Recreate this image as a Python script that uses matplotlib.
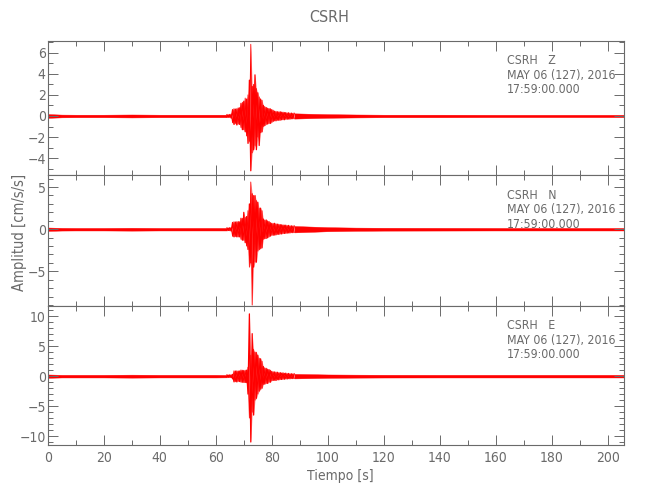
import numpy as np
import matplotlib
matplotlib.use('Agg')
import matplotlib.pyplot as plt
from matplotlib import font_manager as fm
from matplotlib.ticker import MultipleLocator

# pick a narrow font if one is installed, else Roboto
cands = [f for f in fm.fontManager.ttflist
         if (f.stretch in ('condensed', 'semi-condensed')
             or 'Condensed' in f.name or 'Narrow' in f.name)
         and f.style == 'normal' and f.weight in (300, 400, 'normal', 'light')]
cands.sort(key=lambda f: ('DejaVu' not in f.name, f.weight != 400))
if cands:
    plt.rcParams['font.family'] = [cands[0].name, 'DejaVu Sans']
    plt.rcParams['font.stretch'] = cands[0].stretch
else:
    plt.rcParams['font.family'] = ['Roboto', 'DejaVu Sans']
    plt.rcParams['font.weight'] = 'light'

# station / header text
station = 'CSRH'
comps = ['Z', 'N', 'E']
date_txt = 'MAY 06 (127), 2016'
time_txt = '17:59:00.000'

# event section: upper / lower envelope read every 0.5 s from 64 s to 88 s
t_burst = np.arange(64.0, 88.01, 0.5)
up_z = [0.12, 0.12, 0.14, 0.2, 0.6, 0.7, 0.65, 0.7, 0.75, 0.8,
        1.2, 1.3, 1.4, 1.7, 1.6, 2.0, 3.4, 6.8, 2.8, 3.0,
        3.9, 2.6, 2.2, 1.8, 1.6, 1.5, 1.0, 0.9, 0.8, 0.75,
        0.7, 0.7, 0.6, 0.55, 0.45, 0.45, 0.4, 0.4, 0.4, 0.38,
        0.35, 0.35, 0.32, 0.3, 0.3, 0.28, 0.27, 0.26, 0.25]
lo_z = [-0.12, -0.12, -0.14, -0.2, -0.65, -0.8, -0.7, -0.85, -0.75, -0.8,
        -1.1, -1.3, -1.3, -1.5, -1.9, -2.6, -2.4, -5.2, -3.5, -3.2,
        -2.8, -3.2, -2.0, -2.8, -1.6, -1.5, -1.0, -0.9, -0.8, -0.75,
        -0.7, -0.7, -0.6, -0.5, -0.45, -0.45, -0.4, -0.4, -0.4, -0.35,
        -0.35, -0.35, -0.3, -0.3, -0.3, -0.28, -0.27, -0.25, -0.25]
up_n = [0.15, 0.15, 0.18, 0.2, 0.8, 0.9, 0.85, 0.9, 0.9, 0.9,
        1.3, 1.3, 2.0, 1.4, 1.5, 2.2, 3.0, 5.6, 4.2, 4.0,
        4.0, 3.4, 3.2, 2.5, 2.5, 2.2, 1.2, 1.1, 1.1, 1.0,
        0.9, 0.8, 0.7, 0.7, 0.7, 0.65, 0.6, 0.6, 0.55, 0.55,
        0.5, 0.5, 0.48, 0.45, 0.45, 0.42, 0.4, 0.4, 0.38]
lo_n = [-0.15, -0.15, -0.18, -0.2, -0.85, -0.9, -0.85, -0.9, -0.9, -0.9,
        -1.2, -1.3, -1.3, -1.6, -2.0, -2.4, -4.5, -4.0, -9.0, -4.5,
        -3.9, -3.9, -2.6, -2.4, -2.3, -2.2, -1.2, -1.1, -1.1, -1.0,
        -0.9, -0.8, -0.7, -0.7, -0.7, -0.65, -0.6, -0.6, -0.55, -0.55,
        -0.5, -0.5, -0.48, -0.45, -0.45, -0.42, -0.4, -0.4, -0.38]
up_e = [0.2, 0.2, 0.22, 0.25, 0.3, 0.9, 0.85, 0.9, 0.85, 0.9,
        1.0, 1.0, 0.95, 1.0, 1.0, 1.5, 10.4, 3.5, 7.1, 4.5,
        4.0, 4.0, 3.5, 3.0, 2.9, 2.5, 1.6, 1.4, 1.3, 1.2,
        1.1, 1.0, 0.8, 0.75, 0.7, 0.7, 0.65, 0.6, 0.6, 0.55,
        0.55, 0.5, 0.5, 0.45, 0.45, 0.42, 0.4, 0.4, 0.38]
lo_e = [-0.2, -0.2, -0.22, -0.25, -0.5, -0.95, -0.9, -0.95, -0.85, -0.9,
        -1.0, -1.0, -1.05, -1.05, -1.1, -3.0, -7.0, -11.0, -6.0, -6.5,
        -4.0, -3.7, -3.0, -2.5, -2.2, -2.0, -1.4, -1.3, -1.2, -1.2,
        -1.0, -1.0, -0.75, -0.7, -0.7, -0.7, -0.6, -0.6, -0.55, -0.55,
        -0.5, -0.5, -0.45, -0.45, -0.42, -0.42, -0.4, -0.4, -0.38]

# background noise half-width (before and after the event)
t_pre = [0, 5, 10, 20, 30, 40, 50, 60, 64]
t_post = [88, 95, 100, 110, 120, 140, 160, 180, 206]
pre_z = [0.18, 0.13, 0.12, 0.12, 0.14, 0.12, 0.12, 0.12, 0.12]
post_z = [0.25, 0.2, 0.17, 0.14, 0.12, 0.12, 0.11, 0.11, 0.11]
pre_n = [0.2, 0.16, 0.15, 0.15, 0.17, 0.15, 0.15, 0.15, 0.15]
post_n = [0.38, 0.3, 0.24, 0.19, 0.17, 0.16, 0.15, 0.15, 0.15]
pre_e = [0.28, 0.22, 0.22, 0.22, 0.25, 0.22, 0.22, 0.22, 0.2]
post_e = [0.38, 0.32, 0.28, 0.25, 0.23, 0.22, 0.22, 0.22, 0.22]

ups = [up_z, up_n, up_e]
los = [lo_z, lo_n, lo_e]
pres = [pre_z, pre_n, pre_e]
posts = [post_z, post_n, post_e]

ylims = [(-5.6, 7.14), (-9.05, 6.43), (-11.5, 11.8)]
ymajor = [2, 5, 5]

gray = '#6a6a6a'
red = '#ff0000'
pink = '#ff8c8c'

fig = plt.figure(figsize=(6.5, 5.0), dpi=100)

L = 47.8 / 650
W = (624 - 47.8) / 650
tops = [40.7, 175.0, 305.5]
bots = [175.0, 305.5, 445.0]

axs = []
for i in range(3):
    ax = fig.add_axes([L, 1 - bots[i] / 500, W, (bots[i] - tops[i]) / 500])
    axs.append(ax)

    ax.fill_between(t_pre, -np.array(pres[i]), pres[i], color=red, lw=0.3)
    ax.fill_between(t_post, -np.array(posts[i]), posts[i], color=red, lw=0.3)
    # envelope in pink, trace swinging between the peaks in red
    ax.fill_between(t_burst, los[i], ups[i], color=pink, lw=0)
    up = np.array(ups[i])
    lo = np.array(los[i])
    even = np.arange(len(t_burst)) % 2 == 0
    ax.plot(t_burst, np.where(even, up, lo), color=red, lw=0.9)
    ax.plot(t_burst, np.where(even, lo, up), color=red, lw=0.6)

    ax.set_xlim(0, 205.8)
    ax.set_ylim(*ylims[i])
    ax.xaxis.set_major_locator(MultipleLocator(20))
    ax.xaxis.set_minor_locator(MultipleLocator(10))
    ax.yaxis.set_major_locator(MultipleLocator(ymajor[i]))
    ax.yaxis.set_minor_locator(MultipleLocator(1))
    ax.tick_params(which='both', direction='in', top=True, right=True,
                   colors=gray, labelcolor=gray, labelsize=10)
    ax.tick_params(which='major', length=7.2, width=0.7)
    ax.tick_params(which='minor', length=3.6, width=0.7)
    ax.tick_params(axis='y', pad=1.5)
    ax.tick_params(axis='x', pad=4)
    for s in ax.spines.values():
        s.set_color(gray)
        s.set_linewidth(0.8)
    if i < 2:
        ax.tick_params(labelbottom=False)

    h = bots[i] - tops[i]
    lines = [station + '   ' + comps[i], date_txt, time_txt]
    for k, txt in enumerate(lines):
        ax.text((506.7 - 47.8) / (624 - 47.8), 1 - (20.3 + 14.5 * k) / h, txt,
                transform=ax.transAxes, ha='left', va='center',
                fontsize=8.8, color=gray)

fig.text(329 / 650, 1 - 18 / 500, station, ha='center', va='center',
         fontsize=11.5, color=gray)
fig.text(340 / 650, 1 - 476 / 500, 'Tiempo [s]', ha='center', va='center',
         fontsize=10, color=gray)
fig.text(20 / 650, 1 - 232 / 500, 'Amplitud [cm/s/s]', ha='center',
         va='center', rotation=90, fontsize=10.5, color=gray)

fig.savefig('out.png', dpi=100)
